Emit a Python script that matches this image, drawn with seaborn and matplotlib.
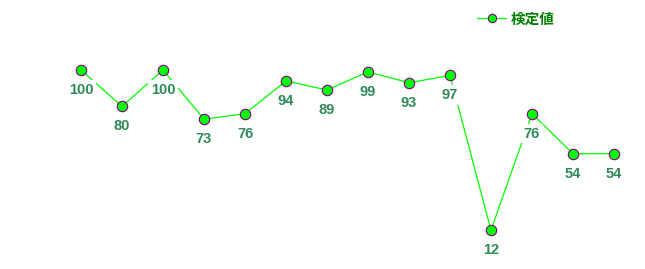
import matplotlib
matplotlib.use("Agg")
import matplotlib.pyplot as plt
import seaborn as sns
import pandas as pd
from matplotlib.lines import Line2D

categories = list(range(14))
values = [100, 80, 100, 73, 76, 94, 89, 99, 93, 97, 12, 76, 54, 54]
series_name = "検定値"

sns.set_style("white")
plt.rcParams['font.family'] = ['Noto Sans CJK JP', 'DejaVu Sans']

df = pd.DataFrame({"x": categories, "y": values})

fig = plt.figure(figsize=(6.45, 2.69), dpi=100)
ax = fig.add_axes([0, 0, 1, 1])
sns.lineplot(data=df, x="x", y="y", ax=ax, color="#00FF00", linewidth=0.9,
             marker="o", markersize=7.5, markerfacecolor="#00FF00",
             markeredgecolor="#800080", markeredgewidth=0.8, zorder=2)

for xi, yi in zip(categories, values):
    ax.annotate(str(yi), (xi, yi), xytext=(0, -14.3), textcoords="offset points",
                ha="center", va="center", fontsize=10.5, fontweight="bold",
                color="#2E8B57", family=['Liberation Sans'],
                bbox=dict(boxstyle="square,pad=0.2", fc="white", ec="none"),
                zorder=3)

ax.set_xlim(-81/41, 13 + 31/41)
ax.set_ylim(-17/1.82, 100 + 70/1.82)
ax.axis("off")

handle = Line2D([0], [0], color="#00FF00", linewidth=0.9, marker="o",
                markersize=6, markerfacecolor="#00FF00",
                markeredgecolor="#800080", markeredgewidth=0.8)
leg = ax.legend([handle], [series_name], loc="upper left",
                bbox_to_anchor=(470/645, 1 - 3/269), frameon=False,
                handlelength=2.0, handletextpad=0.3, borderpad=0,
                prop={"family": "Noto Sans CJK JP", "weight": "bold", "size": 10.5})
for t in leg.get_texts():
    t.set_color("#008000")

fig.savefig("out.png", dpi=100, facecolor="white")
